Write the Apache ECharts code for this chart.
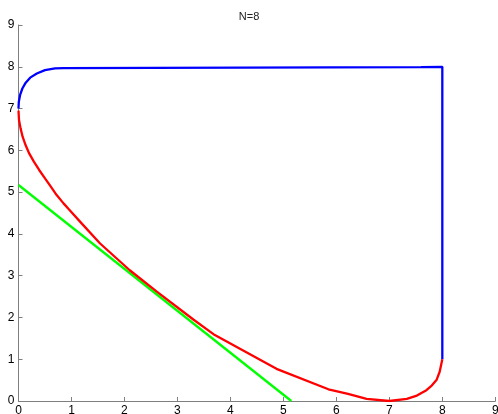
<!DOCTYPE html>
<html><head><meta charset="utf-8">
<script src="https://cdn.jsdelivr.net/npm/echarts@6/dist/echarts.min.js"></script>
<style>html,body{margin:0;padding:0;background:#fff}#c{width:498px;height:414px}</style>
</head><body><div id="c"></div>
<script>
var title = 'N=8';
var axisTicks = [0,1,2,3,4,5,6,7,8,9];
var blueX = [0, 0.006, 0.029, 0.073, 0.136, 0.22, 0.346, 0.50, 0.69, 0.85, 7.6, 8, 8];
var blueY = [7.0, 7.16, 7.32, 7.48, 7.62, 7.74, 7.84, 7.92, 7.96, 7.97, 7.99, 8, 1];
var redX = [0, 0.01, 0.04, 0.079, 0.135, 0.204, 0.29, 0.39, 0.50, 0.61, 0.72, 0.85, 0.95, 1.2, 1.54, 2.10, 2.61, 3.30, 3.68, 4.87, 5.85, 6.22, 6.57, 7.0, 7.33, 7.52, 7.70, 7.80, 7.89, 7.95, 8];
var redY = [6.95, 6.72, 6.52, 6.32, 6.12, 5.92, 5.73, 5.53, 5.33, 5.13, 4.93, 4.73, 4.59, 4.24, 3.77, 3.13, 2.62, 1.95, 1.60, 0.77, 0.28, 0.17, 0.05, 0.0, 0.05, 0.13, 0.26, 0.37, 0.50, 0.70, 1.0];
var greenX = [0, 5.15];
var greenY = [5.17, 0];

function pairs(xs, ys){ return xs.map(function(x,i){ return [x, ys[i]]; }); }

var chart = echarts.init(document.getElementById('c'), null, {renderer:'canvas'});
function axisCommon(){ return {
  type:'value', min:0, max:9, interval:1,
  axisLine:{show:true, lineStyle:{color:'#7f7f7f', width:1}},
  axisTick:{show:true, inside:true, length:4, lineStyle:{color:'#7f7f7f'}},
  splitLine:{show:false},
  axisLabel:{color:'#000', fontSize:12, fontFamily:'Liberation Sans, Arial, sans-serif', margin:4, hideOverlap:false,
    formatter:function(v){ return axisTicks.indexOf(v) >= 0 ? String(v) : ''; }}
}; }
chart.setOption({
  animation:false,
  title:{text:title, left:'center', top:6, textStyle:{fontSize:11, fontWeight:'normal', color:'#222', fontFamily:'Liberation Sans, Arial, sans-serif'}},
  grid:{left:18.5, right:2.7, top:25, bottom:13, containLabel:false, outerBoundsMode:'none'},
  xAxis: axisCommon(),
  yAxis: axisCommon(),
  series:[
    {type:'line', data:pairs(blueX, blueY), showSymbol:false, lineStyle:{color:'#0000ff', width:2.3}, z:2},
    {type:'line', data:pairs(greenX, greenY), showSymbol:false, lineStyle:{color:'#00ff00', width:2.3}, z:3},
    {type:'line', data:pairs(redX, redY), showSymbol:false, lineStyle:{color:'#ff0000', width:2.3}, z:4}
  ]
});
</script></body></html>
